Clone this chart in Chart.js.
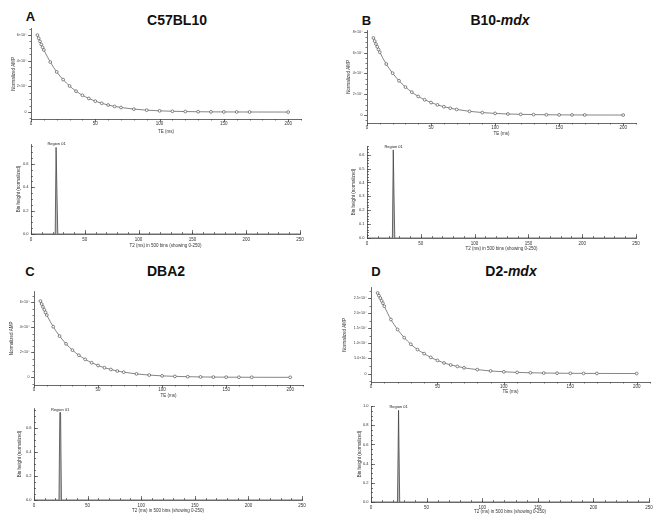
<!DOCTYPE html>
<html>
<head>
<meta charset="utf-8">
<script src="https://cdn.jsdelivr.net/npm/chart.js@4.4.0/dist/chart.umd.min.js"></script>
<style>
  body { margin: 0; background: #fff; width: 657px; height: 526px; position: relative; overflow: hidden; font-family: "Liberation Sans", Arial, sans-serif; }
  canvas { position: absolute; }
  .lbl { position: absolute; font-weight: bold; color: #111; transform: translate(-50%, -50%); white-space: nowrap; line-height: 1; }
  .letter { font-size: 13px; }
  .title { font-size: 14px; }
</style>
</head>
<body>
<div class="lbl letter" style="left:30.5px;top:16px">A</div>
<div class="lbl title" style="left:177px;top:20px">C57BL10</div>
<div class="lbl letter" style="left:366.5px;top:20px">B</div>
<div class="lbl title" style="left:500px;top:20px">B10-<i>mdx</i></div>
<div class="lbl letter" style="left:30px;top:271px">C</div>
<div class="lbl title" style="left:166px;top:271px">DBA2</div>
<div class="lbl letter" style="left:376px;top:271px">D</div>
<div class="lbl title" style="left:511px;top:271px">D2-<i>mdx</i></div>

<canvas id="decayA"></canvas>
<canvas id="histA"></canvas>
<canvas id="decayB"></canvas>
<canvas id="histB"></canvas>
<canvas id="decayC"></canvas>
<canvas id="histC"></canvas>
<canvas id="decayD"></canvas>
<canvas id="histD"></canvas>

<script>
// echo times (ms), same for all four decay curves
const teMs = [5, 6, 7, 8, 9, 10, 15, 20, 25, 30, 35, 40, 45, 50, 55, 60, 65, 70, 80, 90, 100, 110, 120, 130, 140, 150, 160, 170, 200];

// normalized amplitude at each echo time
const ampA = [60000, 57500, 55100, 52700, 50500, 48400, 39000, 31300, 25300, 20300, 16300, 13100, 10600, 8500, 6850, 5500, 4400, 3550, 2300, 1500, 960, 620, 400, 260, 170, 110, 70, 45, 12];
const ampB = [74000, 71000, 68200, 65500, 62900, 60300, 49000, 40200, 32900, 26900, 22000, 17900, 14700, 12000, 9800, 8000, 6600, 5400, 3600, 2400, 1600, 1060, 700, 470, 310, 210, 140, 90, 26];
const ampC = [61000, 58600, 56300, 54000, 51900, 49800, 40500, 33000, 26800, 21800, 17700, 14400, 11700, 9500, 7700, 6300, 5100, 4150, 2750, 1820, 1200, 800, 530, 350, 230, 150, 100, 70, 20];
const ampD = [26700, 25800, 25000, 24100, 23300, 22300, 17900, 14600, 11900, 9700, 7950, 6600, 5350, 4350, 3500, 2850, 2350, 1900, 1300, 850, 580, 380, 260, 170, 115, 75, 50, 35, 10];

// T2 distributions (bin position in ms, normalized height)
const binT2A = [0, 22.5, 23.3, 24.1, 24.9, 250];
const binHeightA = [0, 0, 0.742, 0.742, 0, 0];
const binT2B = [0, 23.6, 24.4, 25.0, 25.8, 250];
const binHeightB = [0, 0, 0.635, 0.635, 0, 0];
const binT2C = [0, 23.3, 24.1, 24.8, 25.6, 250];
const binHeightC = [0, 0, 0.73, 0.73, 0, 0];
const binT2D = [0, 23.8, 24.8, 25.8, 250];
const binHeightD = [0, 0, 0.955, 0, 0];

// tick values and labels
const decayXTicks = [0, 50, 100, 150, 200];
const histXTicks = [0, 50, 100, 150, 200, 250];
const decayYTicksA = [0, 20000, 40000, 60000];
const decayYLabelsA = ["0", "2×10⁴", "4×10⁴", "6×10⁴"];
const decayYTicksB = [0, 20000, 40000, 60000, 80000];
const decayYLabelsB = ["0", "2×10⁴", "4×10⁴", "6×10⁴", "8×10⁴"];
const decayYTicksD = [0, 5000, 10000, 15000, 20000, 25000];
const decayYLabelsD = ["0", "5.0×10³", "1.0×10⁴", "1.5×10⁴", "2.0×10⁴", "2.5×10⁴"];
const histYTicks = [0, 0.2, 0.4, 0.6];
const histYTicksB = [0, 0.1, 0.2, 0.3, 0.4, 0.5, 0.6];
const histYTicksD = [0, 0.2, 0.4, 0.6, 0.8, 1.0];

const FONT = "Liberation Sans";
const small = { family: FONT, size: 4.5, lineHeight: 1.2 };

// draws major + minor tick marks (inward or outward)
const tickMarks = {
    id: "tickMarks",
    afterDraw(chart, args, o) {
        const { ctx, chartArea: a, scales: { x, y } } = chart;
        const dir = o.inward ? -1 : 1;
        ctx.save();
        ctx.strokeStyle = "#444";
        ctx.lineWidth = 0.7;
        ctx.beginPath();
        const xTick = (v, len) => {
            if (v < x.min - 1e-9 || v > x.max + 1e-9) return;
            const px = Math.round(x.getPixelForValue(v)) + 0.5;
            ctx.moveTo(px, a.bottom);
            ctx.lineTo(px, a.bottom + dir * len);
        };
        const yTick = (v, len) => {
            if (v < y.min - 1e-9 || v > y.max + 1e-9) return;
            const py = Math.round(y.getPixelForValue(v)) + 0.5;
            ctx.moveTo(a.left, py);
            ctx.lineTo(a.left - dir * len, py);
        };
        for (let i = Math.ceil(x.min / o.xMinor); i * o.xMinor <= x.max + 1e-9; i++) xTick(i * o.xMinor, o.minorLen);
        for (let i = Math.ceil(y.min / o.yMinor - 1e-9); i * o.yMinor <= y.max + 1e-9; i++) yTick(i * o.yMinor, o.minorLen);
        x.ticks.forEach(t => xTick(t.value, o.majorLen));
        y.ticks.forEach(t => yTick(t.value, o.majorLen));
        ctx.stroke();
        ctx.restore();
    }
};

// "Region 01" above the peak of the distribution
const regionLabel = {
    id: "regionLabel",
    afterDatasetsDraw(chart, args, o) {
        if (!o.text) return;
        const d = chart.data.datasets[0].data;
        const top = d.reduce((m, p) => (p.y > m.y ? p : m));
        const peak = d.filter(p => p.y === top.y);
        const xv = (peak[0].x + peak[peak.length - 1].x) / 2;
        const { ctx, scales: { x, y } } = chart;
        ctx.save();
        ctx.font = "4px " + FONT;
        ctx.fillStyle = "#222";
        ctx.textAlign = "center";
        ctx.textBaseline = "bottom";
        ctx.fillText(o.text, x.getPixelForValue(xv), y.getPixelForValue(top.y) - 1);
        ctx.restore();
    }
};

function makeChart(id, box, cfg) {
    const cl = Math.round(box.yTitleX - 2.7);
    const cb = Math.round(box.xTitleY + 2.7);
    const ct = box.t - 6;
    const cr = box.r + 8;
    const cv = document.getElementById(id);
    cv.width = cr - cl;
    cv.height = cb - ct;
    cv.style.left = cl + "px";
    cv.style.top = ct + "px";
    const padL = box.l - cl;
    const padB = cb - box.b;

    new Chart(cv, {
        type: "line",
        data: { datasets: [cfg.dataset] },
        options: {
            responsive: false,
            animation: false,
            devicePixelRatio: 1,
            layout: { padding: { top: 6, right: 8, left: 0, bottom: 0 } },
            plugins: {
                legend: { display: false },
                tooltip: { enabled: false },
                tickMarks: cfg.marks,
                regionLabel: { text: cfg.region },
            },
            scales: {
                x: {
                    type: "linear",
                    min: cfg.xMin,
                    max: cfg.xMax,
                    afterFit: s => { s.height = padB; },
                    afterBuildTicks: s => { s.ticks = cfg.xTicks.map(v => ({ value: v })); },
                    grid: { display: false, drawTicks: false },
                    border: { display: true, color: "#444", width: 0.8 },
                    ticks: { font: small, color: "#333", padding: cfg.xPad, maxRotation: 0, autoSkip: false },
                    title: { display: true, text: cfg.xTitle, font: small, color: "#333", padding: 0 },
                },
                y: {
                    type: "linear",
                    min: cfg.yMin,
                    max: cfg.yMax,
                    afterFit: s => { s.width = padL; },
                    afterBuildTicks: s => { s.ticks = cfg.yTicks.map(v => ({ value: v })); },
                    grid: { display: false, drawTicks: false },
                    border: { display: true, color: "#444", width: 0.8 },
                    ticks: { font: { family: FONT, size: cfg.yFont, lineHeight: 1.2 }, color: "#333", padding: cfg.yPad, autoSkip: false, callback: (v, i) => cfg.yLabels[i] },
                    title: { display: true, text: cfg.yTitle, font: small, color: "#333", padding: 0 },
                },
            },
        },
        plugins: [tickMarks, regionLabel],
    });
}

function decay(id, box, amp, yMin, yMax, yTicks, yLabels, yMinor) {
    makeChart(id, box, {
        dataset: {
            data: teMs.map((t, i) => ({ x: t, y: amp[i] })),
            borderColor: "#666",
            borderWidth: 0.8,
            pointRadius: 1.4,
            pointBorderWidth: 0.7,
            pointBackgroundColor: "#fff",
            pointBorderColor: "#555",
            cubicInterpolationMode: "monotone",
            fill: false,
        },
        xMin: 0, xMax: 210, xTicks: decayXTicks, xPad: 2.5,
        yMin, yMax, yTicks, yLabels, yFont: 3.6, yPad: 4.5,
        xTitle: "TE (ms)",
        yTitle: "Normalized AMP",
        marks: { inward: false, majorLen: 3, minorLen: 1.5, xMinor: 10, yMinor },
    });
}

function hist(id, box, t2, h, yMax, yTicks, yMinor) {
    makeChart(id, box, {
        dataset: {
            data: t2.map((t, i) => ({ x: t, y: h[i] })),
            borderColor: "#333",
            borderWidth: 0.7,
            pointRadius: 0,
            tension: 0,
            fill: "origin",
            backgroundColor: "#bbb",
        },
        xMin: 0, xMax: 250, xTicks: histXTicks, xPad: 3,
        yMin: 0, yMax, yTicks, yLabels: yTicks.map(v => v.toFixed(1)), yFont: 4, yPad: 2.5,
        xTitle: "T2 (ms) in 500 bins (showing 0-250)",
        yTitle: "Bin height (normalized)",
        marks: { inward: true, majorLen: 4, minorLen: 2, xMinor: 10, yMinor },
        region: "Region 01",
    });
}

decay("decayA", { l: 31, t: 28, r: 301, b: 119, yTitleX: 13.3, xTitleY: 131 }, ampA, -5400, 65000, decayYTicksA, decayYLabelsA, 5000);
hist("histA", { l: 31, t: 144, r: 300, b: 234, yTitleX: 18.5, xTitleY: 245.7 }, binT2A, binHeightA, 0.771, histYTicks, 0.05);

decay("decayB", { l: 367, t: 30, r: 636, b: 123, yTitleX: 348.3, xTitleY: 133 }, ampB, -7600, 81000, decayYTicksB, decayYLabelsB, 5000);
hist("histB", { l: 367, t: 146, r: 636, b: 238, yTitleX: 354, xTitleY: 248.3 }, binT2B, binHeightB, 0.663, histYTicksB, 0.02);

decay("decayC", { l: 34, t: 291, r: 303, b: 385, yTitleX: 11.7, xTitleY: 395 }, ampC, -6100, 68500, decayYTicksA, decayYLabelsA, 5000);
hist("histC", { l: 34, t: 408, r: 302, b: 500, yTitleX: 20, xTitleY: 510.7 }, binT2C, binHeightC, 0.767, histYTicks, 0.05);

decay("decayD", { l: 371, t: 287, r: 650, b: 382, yTitleX: 345, xTitleY: 391.7 }, ampD, -2800, 28450, decayYTicksD, decayYLabelsD, 2500);
hist("histD", { l: 371, t: 406, r: 649, b: 502, yTitleX: 359.5, xTitleY: 511.7 }, binT2D, binHeightD, 1.0, histYTicksD, 0.05);
</script>
</body>
</html>
